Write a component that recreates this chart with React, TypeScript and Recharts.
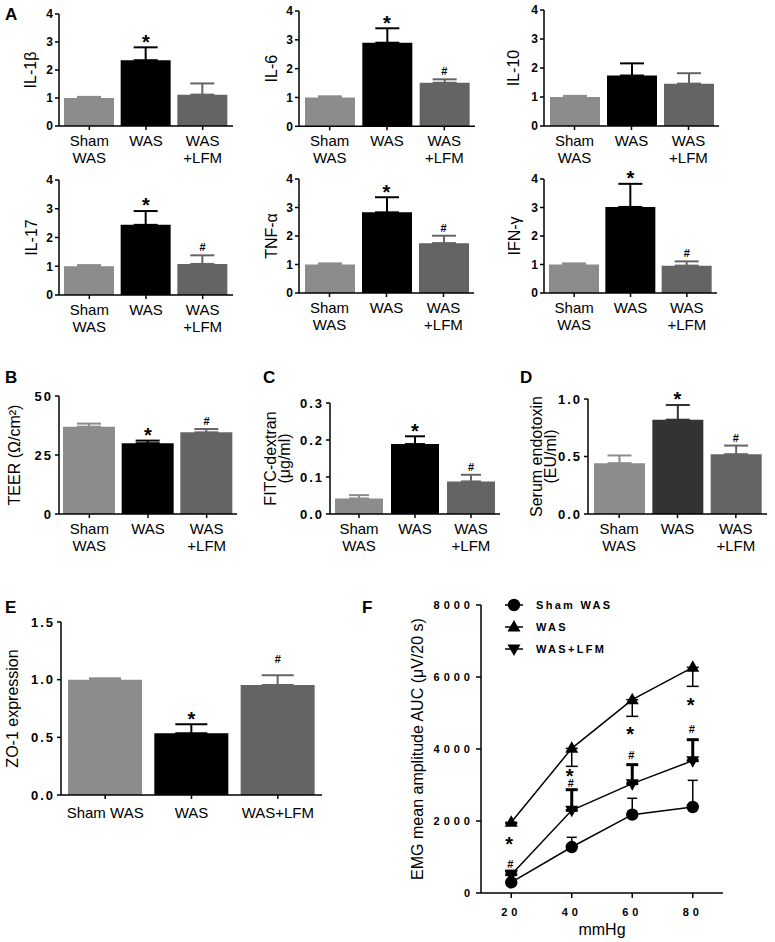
import React from "react";
import {
  BarChart,
  Bar,
  Cell,
  XAxis,
  YAxis,
  ErrorBar,
  ReferenceDot,
  LineChart,
  Line,
  Legend,
} from "recharts";

const FONT = "'Liberation Sans', Arial, Helvetica, sans-serif";

// groups
const groups = ["Sham\nWAS", "WAS", "WAS\n+LFM"];
const groupsE = ["Sham WAS", "WAS", "WAS+LFM"];
const barColors = ["#8c8c8c", "#000000", "#646464"];
const barColorsD = ["#8c8c8c", "#333333", "#646464"];

// panel A (fold change)
const cytoTicks = [0, 1, 2, 3, 4];
const il1b = [1.0, 2.35, 1.12];
const il1bErr = [0.04, 0.46, 0.4];
const il1bMarks = ["", "*", ""];
const il6 = [1.0, 2.9, 1.51];
const il6Err = [0.04, 0.5, 0.12];
const il6Marks = ["", "*", "#"];
const il10 = [1.0, 1.74, 1.46];
const il10Err = [0.04, 0.42, 0.36];
const il10Marks = ["", "", ""];
const il17 = [1.0, 2.44, 1.08];
const il17Err = [0.04, 0.48, 0.3];
const il17Marks = ["", "*", "#"];
const tnfa = [1.0, 2.83, 1.75];
const tnfaErr = [0.04, 0.53, 0.26];
const tnfaMarks = ["", "*", "#"];
const ifng = [1.0, 3.02, 0.96];
const ifngErr = [0.04, 0.81, 0.15];
const ifngMarks = ["", "*", "#"];

// panel B-E
const teerTicks = [0, 25, 50];
const teer = [37, 30, 34.6];
const teerErr = [1.3, 1.1, 1.4];
const fitcTicks = [0, 0.1, 0.2, 0.3];
const fitc = [0.042, 0.189, 0.088];
const fitcErr = [0.009, 0.021, 0.018];
const endoTicks = [0, 0.5, 1.0];
const endo = [0.442, 0.82, 0.52];
const endoErr = [0.067, 0.128, 0.075];
const zoTicks = [0, 0.5, 1.0, 1.5];
const zo1 = [1.0, 0.536, 0.954];
const zo1Err = [0.012, 0.078, 0.084];
const sigMarks = ["", "*", "#"];

// panel F
const pressures = [20, 40, 60, 80];
const emgTicks = [0, 2000, 4000, 6000, 8000];
const shamEmg = [296, 1277, 2176, 2389];
const shamEmgErr = [40, 270, 455, 740];
const wasEmg = [1963, 4018, 5370, 6268];
const wasEmgErr = [40, 500, 463, 528];
const lfmEmg = [509, 2296, 3037, 3676];
const lfmEmgErr = [100, 574, 528, 583];
const fStarY = [1480, 3360, 4550, 5336];
const fHashY = [814, 3060, 3838, 4560];
const legendNames = ["Sham WAS", "WAS", "WAS+LFM"];
const markerKinds = ["circle", "up", "down"];

const axisStyle = { stroke: "#000", strokeWidth: 1.5 };

const CatTick = (props: any) => {
  const { x, y, payload, fs = 15, base = 14, lh = 17 } = props;
  const lines = String(payload.value).split("\n");
  return (
    <text x={x} y={y} textAnchor="middle" fontSize={fs} fontFamily={FONT} fill="#000">
      {lines.map((l: string, i: number) => (
        <tspan key={i} x={x} y={y + base + i * lh}>
          {l}
        </tspan>
      ))}
    </text>
  );
};

const YLabel = ({ lines, bx, cy, fs = 16, lh = 13 }: any) => (
  <text
    transform={`rotate(-90 ${bx} ${cy})`}
    textAnchor="middle"
    fontSize={fs}
    fontFamily={FONT}
    fill="#000"
  >
    {lines.map((l: string, i: number) => (
      <tspan key={i} x={bx} y={cy + i * lh}>
        {l}
      </tspan>
    ))}
  </text>
);

const XLabel = ({ text, px, py }: any) => (
  <text textAnchor="middle" fontSize={16} fontFamily={FONT} fill="#000">
    <tspan x={px} y={py}>
      {text}
    </tspan>
  </text>
);

const MarkText = ({ cx, cy, mark, gapStar = 10, gapHash = 8 }: any) => {
  if (mark === "*")
    return (
      <text x={cx} y={cy - gapStar + 11.4} textAnchor="middle" fontSize={20} fontWeight={700} fontFamily={FONT} fill="#000">
        *
      </text>
    );
  return (
    <text x={cx} y={cy - gapHash + 4} textAnchor="middle" fontSize={11} fontWeight={700} fontFamily={FONT} fill="#000">
      #
    </text>
  );
};

const Marker = ({ kind, cx, cy }: any) => {
  if (kind === "circle") return <circle cx={cx} cy={cy} r={6.2} fill="#000" />;
  if (kind === "up")
    return <polygon points={`${cx},${cy - 7} ${cx - 6.5},${cy + 4.5} ${cx + 6.5},${cy + 4.5}`} fill="#000" />;
  return <polygon points={`${cx},${cy + 7} ${cx - 6.5},${cy - 4.5} ${cx + 6.5},${cy - 4.5}`} fill="#000" />;
};

function BarPanel(p: any) {
  const top = p.yTop - 16;
  const xh = 46;
  const height = p.yBottom - top + xh;
  const width = p.xEnd + 8 - p.left;
  const data = p.cats.map((c: string, i: number) => {
    const row: any = { name: c, value: p.values[i] };
    row["e" + i] = [0, p.errors[i]];
    return row;
  });
  const cy = (p.yTop + p.yBottom) / 2 - top;
  const bx = p.labelBase - p.left;
  const tickFont = p.tickFont || { fontSize: 12, letterSpacing: 0 };
  return (
    <div style={{ position: "absolute", left: p.left, top, width, height }}>
      <BarChart
        width={width}
        height={height}
        data={data}
        margin={{ top: p.yTop - top, right: 8, bottom: 0, left: 0 }}
        barSize={p.barSize}
      >
        <XAxis
          dataKey="name"
          height={xh}
          interval={0}
          padding={{ left: p.pad, right: p.pad }}
          axisLine={axisStyle}
          tickLine={axisStyle}
          tickSize={4}
          tickMargin={2}
          tick={<CatTick base={p.tickBase || 14} />}
        />
        <YAxis
          width={p.axisX - p.left}
          domain={[p.ticks[0], p.ticks[p.ticks.length - 1]]}
          ticks={p.ticks}
          allowDataOverflow
          axisLine={axisStyle}
          tickLine={axisStyle}
          tickSize={4}
          tickMargin={2}
          tickFormatter={p.fmt}
          tick={{
            fill: "#000",
            fontSize: tickFont.fontSize,
            fontWeight: 700,
            fontFamily: FONT,
            style: { letterSpacing: tickFont.letterSpacing + "px" },
          }}
          label={<YLabel lines={p.label} bx={bx} cy={cy} lh={p.lh || 13} />}
        />
        <Bar dataKey="value" isAnimationActive={false}>
          {p.values.map((_: number, i: number) => (
            <Cell key={i} fill={p.colors[i]} />
          ))}
          {p.values.map((_: number, i: number) => (
            <ErrorBar
              key={"e" + i}
              dataKey={"e" + i}
              stroke={p.colors[i]}
              strokeWidth={2}
              width={p.cap}
              isAnimationActive={false}
            />
          ))}
        </Bar>
        {p.marks.map((m: string, i: number) =>
          m ? (
            <ReferenceDot
              key={"m" + i}
              x={p.cats[i]}
              y={p.values[i] + p.errors[i]}
              r={0}
              shape={(s: any) => <MarkText cx={s.cx} cy={s.cy} mark={m} gapHash={p.hashGap || 8} />}
            />
          ) : null
        )}
      </BarChart>
    </div>
  );
}

const FLegend = () => (
  <svg width={200} height={66}>
    {legendNames.map((n, i) => {
      const cy = 11 + i * 22;
      return (
        <g key={n}>
          <line x1={0} x2={18} y1={cy} y2={cy} stroke="#000" strokeWidth={1.5} />
          <Marker kind={markerKinds[i]} cx={9} cy={cy} />
          <text x={31} y={cy + 4} fontSize={11} fontWeight={700} fontFamily={FONT} fill="#000" style={{ letterSpacing: "2.3px" }}>
            {n}
          </text>
        </g>
      );
    })}
  </svg>
);

function EmgPanel() {
  const left = 390;
  const top = 590;
  const width = 343;
  const height = 352;
  const data = pressures.map((p, i) => ({
    p,
    sham: shamEmg[i],
    shamErr: [0, shamEmgErr[i]],
    was: wasEmg[i],
    wasErr: [wasEmgErr[i], 0],
    lfm: lfmEmg[i],
    lfmErr: [0, lfmEmgErr[i]],
  }));
  const tickStyle = {
    fill: "#000",
    fontSize: 11,
    fontWeight: 700,
    fontFamily: FONT,
    style: { letterSpacing: "4px" },
  };
  const dot = (kind: string) => (props: any) =>
    <Marker key={kind + props.index} kind={kind} cx={props.cx} cy={props.cy} />;
  return (
    <div style={{ position: "absolute", left, top, width, height }}>
      <LineChart width={width} height={height} data={data} margin={{ top: 15, right: 10, bottom: 0, left: 0 }}>
        <XAxis
          dataKey="p"
          type="number"
          domain={[10, 90]}
          ticks={pressures}
          height={49}
          axisLine={axisStyle}
          tickLine={axisStyle}
          tickSize={5}
          tickMargin={10}
          tick={tickStyle}
          label={<XLabel text="mmHg" px={602 - left} py={935 - top} />}
        />
        <YAxis
          width={91}
          domain={[0, 8000]}
          ticks={emgTicks}
          allowDataOverflow
          axisLine={axisStyle}
          tickLine={axisStyle}
          tickSize={5}
          tickMargin={2}
          tick={tickStyle}
          label={<YLabel lines={["EMG mean amplitude AUC (\u03bcV/20 s)"]} bx={423 - left} cy={749 - top} />}
        />
        <Legend
          layout="vertical"
          align="center"
          verticalAlign="middle"
          content={<FLegend />}
          wrapperStyle={{ left: 115, top: 4, width: 200, height: 66 }}
        />
        <Line dataKey="sham" stroke="#000" strokeWidth={1.5} dot={dot("circle")} isAnimationActive={false}>
          <ErrorBar dataKey="shamErr" direction="y" stroke="#000" strokeWidth={1.5} width={5} isAnimationActive={false} />
        </Line>
        <Line dataKey="was" stroke="#000" strokeWidth={1.5} dot={dot("up")} isAnimationActive={false}>
          <ErrorBar dataKey="wasErr" direction="y" stroke="#000" strokeWidth={1.5} width={6} isAnimationActive={false} />
        </Line>
        <Line dataKey="lfm" stroke="#000" strokeWidth={1.5} dot={dot("down")} isAnimationActive={false}>
          <ErrorBar dataKey="lfmErr" direction="y" stroke="#000" strokeWidth={3} width={6} isAnimationActive={false} />
        </Line>
        {pressures.map((x, i) => (
          <ReferenceDot key={"s" + i} x={x} y={fStarY[i]} r={0} shape={(s: any) => <MarkText cx={s.cx - 2} cy={s.cy} mark="*" gapStar={0} />} />
        ))}
        {pressures.map((x, i) => (
          <ReferenceDot key={"h" + i} x={x} y={fHashY[i]} r={0} shape={(s: any) => <MarkText cx={s.cx - 1} cy={s.cy} mark="#" gapHash={0} />} />
        ))}
      </LineChart>
    </div>
  );
}

const intFmt = (v: number) => String(v);
const oneDec = (v: number) => v.toFixed(1);
const bigTick = { fontSize: 13, letterSpacing: 2 };

export default function App() {
  const A = { cats: groups, colors: barColors, ticks: cytoTicks, fmt: intFmt, barSize: 50, pad: 2, cap: 12 };
  return (
    <div style={{ position: "absolute", left: 0, top: 0, width: 775, height: 942, background: "#fff", fontFamily: FONT }}>
      <BarPanel {...A} values={il1b} errors={il1bErr} marks={il1bMarks} label={["IL-1\u03b2"]}
        left={0} axisX={59} xEnd={233} yTop={14} yBottom={126} labelBase={36} />
      <BarPanel {...A} values={il6} errors={il6Err} marks={il6Marks} label={["IL-6"]}
        left={245} axisX={299} xEnd={475} yTop={10.7} yBottom={126} labelBase={277} />
      <BarPanel {...A} values={il10} errors={il10Err} marks={il10Marks} label={["IL-10"]}
        left={490} axisX={544} xEnd={719} yTop={10} yBottom={126} labelBase={519} />
      <BarPanel {...A} values={il17} errors={il17Err} marks={il17Marks} label={["IL-17"]}
        left={0} axisX={59} xEnd={233} yTop={180} yBottom={295} labelBase={37} />
      <BarPanel {...A} values={tnfa} errors={tnfaErr} marks={tnfaMarks} label={["TNF-\u03b1"]}
        left={245} axisX={299} xEnd={474} yTop={179.3} yBottom={293.3} labelBase={277} />
      <BarPanel {...A} values={ifng} errors={ifngErr} marks={ifngMarks} label={["IFN-\u03b3"]}
        left={490} axisX={544} xEnd={717} yTop={179.3} yBottom={293.3} labelBase={520} />

      <BarPanel cats={groups} colors={barColors} ticks={teerTicks} fmt={intFmt} barSize={52} pad={1} cap={12}
        values={teer} errors={teerErr} marks={sigMarks} label={["TEER (\u03a9/cm\u00b2)"]} tickFont={bigTick}
        left={0} axisX={59} xEnd={237} yTop={396} yBottom={514} labelBase={20} />
      <BarPanel cats={groups} colors={barColors} ticks={fitcTicks} fmt={oneDec} barSize={48} pad={1} cap={10}
        values={fitc} errors={fitcErr} marks={sigMarks} label={["FITC-dextran", "(\u03bcg/ml)"]} tickFont={bigTick}
        left={258} axisX={330} xEnd={500} yTop={403} yBottom={514} labelBase={276} lh={14} />
      <BarPanel cats={groups} colors={barColorsD} ticks={endoTicks} fmt={oneDec} barSize={51} pad={2} cap={12}
        values={endo} errors={endoErr} marks={sigMarks} label={["Serum endotoxin", "(EU/ml)"]} tickFont={bigTick}
        left={520} axisX={588} xEnd={767} yTop={399} yBottom={514} labelBase={542} lh={14} />
      <BarPanel cats={groupsE} colors={barColors} ticks={zoTicks} fmt={oneDec} barSize={74} pad={1} cap={16}
        values={zo1} errors={zo1Err} marks={sigMarks} label={["ZO-1 expression"]} tickFont={bigTick}
        left={0} axisX={61} xEnd={322} yTop={622} yBottom={795} labelBase={18} tickBase={17} hashGap={16} />

      <EmgPanel />

      <svg width={775} height={942} style={{ position: "absolute", left: 0, top: 0, pointerEvents: "none" }}>
        {[
          ["A", 5, 20],
          ["B", 5, 383],
          ["C", 263, 383],
          ["D", 520, 383],
          ["E", 5, 613],
          ["F", 362, 613],
        ].map(([t, x, y]) => (
          <text key={t as string} x={x as number} y={y as number} fontSize={17} fontWeight={700} fontFamily={FONT} fill="#000">
            {t}
          </text>
        ))}
      </svg>
    </div>
  );
}
